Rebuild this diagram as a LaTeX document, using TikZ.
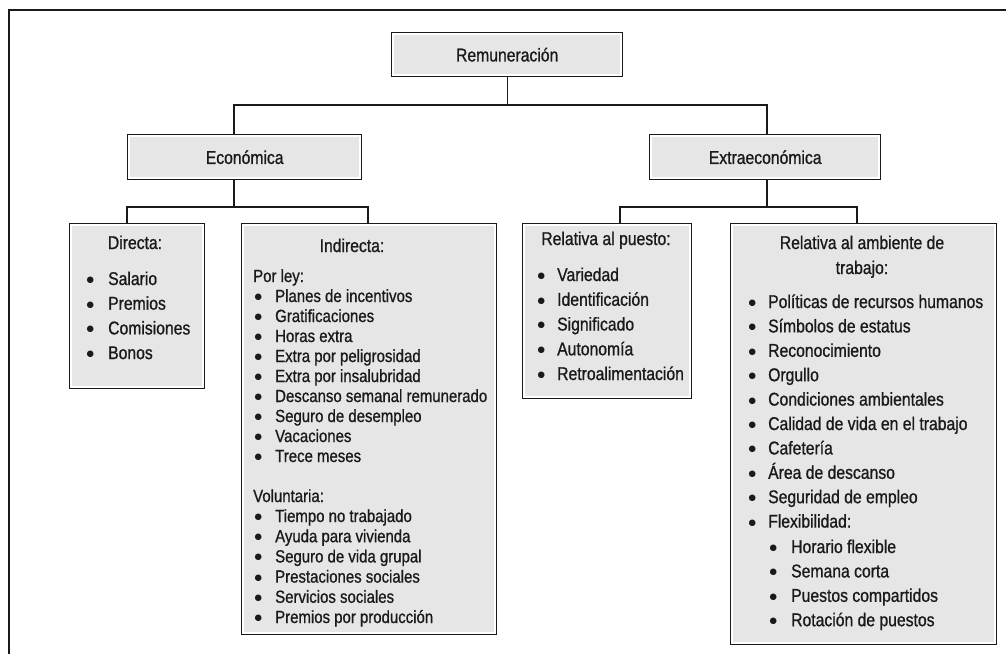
\documentclass[tikz,border=0pt]{standalone}
\usepackage{fontspec}
\setmainfont{Liberation Sans}[FakeStretch=0.85, FakeBold=0.9]
\newfontfamily\dejavu{DejaVu Sans}
\definecolor{boxgray}{HTML}{E6E6E6}
\definecolor{ink}{HTML}{1A1A1A}
\newcommand{\blt}[1]{\makebox[#1][l]{\raisebox{2.6pt}{\dejavu\fontsize{8.5}{9}\selectfont ●}}}
\tikzset{
  box/.style={draw=ink, line width=1.4pt, fill=white, anchor=north west, inner sep=0pt,
    text=ink, font=\fontsize{18.5}{22}\selectfont,
    path picture={\fill[boxgray] ([shift={(2.5pt,-2.5pt)}]path picture bounding box.north west)
      rectangle ([shift={(-2.5pt,2.5pt)}]path picture bounding box.south east);}},
  conn/.style={line width=1.3pt, draw=ink},
  txt/.style={inner sep=0pt, text=ink, font=\fontsize{18.5}{22}\selectfont,
    text height=13.5pt, text depth=4pt},
  smalltxt/.style={inner sep=0pt, text=ink, font=\fontsize{17.6}{21}\selectfont,
    text height=12.5pt, text depth=3.5pt},
  item/.style={txt, anchor=base west},
  sitem/.style={smalltxt, anchor=base west},
  ttl/.style={txt, anchor=base},
}
\begin{document}
\begin{tikzpicture}[x=1pt, y=-1pt]
\useasboundingbox (0,0) rectangle (1006,653);
\clip (0,0) rectangle (1006,653);
% outer frame
\draw[line width=2pt, ink] (1030,10) -- (9,10) -- (9,680);

% top boxes
\node[box, minimum width=231pt, minimum height=44pt] (rem) at (391,32) {Remuneración};
\node[box, minimum width=234pt, minimum height=45pt] (eco) at (127,134) {Económica};
\node[box, minimum width=231pt, minimum height=45pt] (ext) at (649,134) {Extraeconómica};

% lower boxes
\node[box, minimum width=135pt, minimum height=165pt] (dir) at (69,223) {};
\node[box, minimum width=255pt, minimum height=411pt] (ind) at (241,223) {};
\node[box, minimum width=169pt, minimum height=175pt] (rpu) at (522,223) {};
\node[box, minimum width=266pt, minimum height=421pt] (ram) at (730,223) {};

% connectors
\coordinate (hL) at (234,105);
\coordinate (hR) at (767,105);
\draw[conn] (rem.south) -- (rem.south |- hL);
\draw[conn] (eco.north -| hL) -- (hL) -- (hR) -- (ext.north -| hR);

\coordinate (eL) at (127,207);
\coordinate (eR) at (368,207);
\draw[conn] (eco.south -| hL) -- (hL |- eL);
\draw[conn] (dir.north -| eL) -- (eL) -- (eR) -- (ind.north -| eR);

\coordinate (xL) at (620,207);
\coordinate (xR) at (857,207);
\draw[conn] (ext.south -| hR) -- (hR |- xL);
\draw[conn] (rpu.north -| xL) -- (xL) -- (xR) -- (ram.north -| xR);

% Directa
\node[ttl] (dirt) at (135,249) {Directa:};
\foreach \t [count=\i from 0] in {Salario,Premios,Comisiones,Bonos}
  \node[item] (dir-\i) at (86.5,285+24.7*\i) {\blt{21.5pt}\t};

% Indirecta
\node[ttl] (indt) at (352,252) {Indirecta:};
\node[sitem] (ley) at (253,282) {Por ley:};
\foreach \t [count=\i from 0] in {Planes de incentivos,Gratificaciones,Horas extra,
  Extra por peligrosidad,Extra por insalubridad,Descanso semanal remunerado,
  Seguro de desempleo,Vacaciones,Trece meses}
  \node[sitem] (ley-\i) at (254.5,302+20*\i) {\blt{20.5pt}\t};
\node[sitem] (vol) at (253,502) {Voluntaria:};
\foreach \t [count=\i from 0] in {Tiempo no trabajado,Ayuda para vivienda,
  Seguro de vida grupal,Prestaciones sociales,Servicios sociales,Premios por producción}
  \node[sitem] (vol-\i) at (254.5,522+20.2*\i) {\blt{20.5pt}\t};

% Relativa al puesto
\node[ttl] (rput) at (606,245) {Relativa al puesto:};
\foreach \t [count=\i from 0] in {Variedad,Identificación,Significado,Autonomía,Retroalimentación}
  \node[item] (rpu-\i) at (537.5,281+24.75*\i) {\blt{19.5pt}\t};

% Relativa al ambiente de trabajo
\node[ttl] (ramt1) at (862,249) {Relativa al ambiente de};
\node[ttl] (ramt2) at (862,274) {trabajo:};
\foreach \t [count=\i from 0] in {Políticas de recursos humanos,Símbolos de estatus,
  Reconocimiento,Orgullo,Condiciones ambientales,Calidad de vida en el trabajo,
  Cafetería,Área de descanso,Seguridad de empleo,Flexibilidad:}
  \node[item] (ram-\i) at (748.5,308+24.4*\i) {\blt{19.5pt}\t};
\foreach \t [count=\i from 0] in {Horario flexible,Semana corta,Puestos compartidos,Rotación de puestos}
  \node[item] (flx-\i) at (769.5,553+24.4*\i) {\blt{21.5pt}\t};
\end{tikzpicture}
\end{document}
